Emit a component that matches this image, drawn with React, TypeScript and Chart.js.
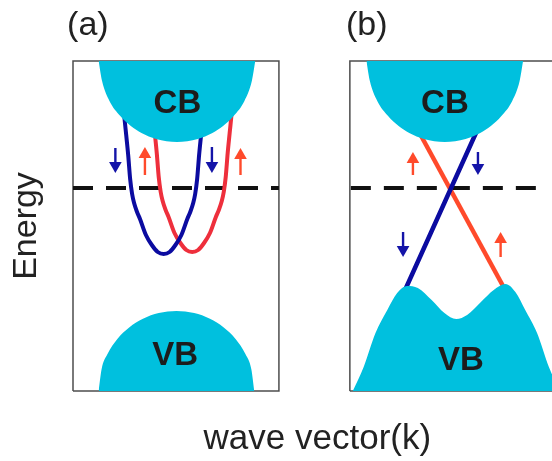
import React, { useEffect, useRef } from 'react';
import { Chart, registerables } from 'chart.js';

Chart.register(...registerables);

type P = { x: number; y: number | null };

// ---- data (k along x, energy along y; arbitrary units) ----
const frameA: P[] = [{ x: 0, y: 0 }, { x: 0, y: 330 }, { x: 209, y: 330 }, { x: 209, y: 0 }, { x: 0, y: 0 }];
const frameB: P[] = [{ x: 281, y: 0 }, { x: 281, y: 330 }, { x: 490, y: 330 }, { x: 490, y: 0 }, { x: 281, y: 0 }];

const fermiA: P[] = [{ x: 0, y: 203 }, { x: 209, y: 203 }];
const fermiB: P[] = [{ x: 282, y: 203 }, { x: 470, y: 203 }];

const cbA: P[] = [
  { x: 26, y: 330 }, { x: 29.5, y: 310 }, { x: 37, y: 290 }, { x: 48, y: 275 }, { x: 58.7, y: 265 },
  { x: 69.5, y: 258 }, { x: 84.3, y: 252 }, { x: 105.5, y: 249 }, { x: 126.7, y: 252 }, { x: 141.5, y: 258 },
  { x: 152.3, y: 265 }, { x: 163, y: 275 }, { x: 174, y: 290 }, { x: 181.5, y: 310 }, { x: 185, y: 330 },
];
const cbB: P[] = [
  { x: 297.8, y: 330 }, { x: 301.3, y: 310 }, { x: 308.8, y: 290 }, { x: 319.8, y: 275 }, { x: 330.5, y: 265 },
  { x: 341.3, y: 258 }, { x: 356.1, y: 252 }, { x: 377.3, y: 249 }, { x: 398.5, y: 252 }, { x: 413.3, y: 258 },
  { x: 424.1, y: 265 }, { x: 434.8, y: 275 }, { x: 445.8, y: 290 }, { x: 453.3, y: 310 }, { x: 456.8, y: 330 },
];
const vbA: P[] = [
  { x: 26, y: 0 }, { x: 29, y: 21.8 }, { x: 35, y: 37 }, { x: 45, y: 52 }, { x: 57, y: 63.5 },
  { x: 71, y: 72.2 }, { x: 87, y: 77.9 }, { x: 105, y: 80 }, { x: 123, y: 77.9 }, { x: 139, y: 72.2 },
  { x: 153, y: 63.5 }, { x: 165, y: 52 }, { x: 175, y: 37 }, { x: 181, y: 21.8 }, { x: 184, y: 0 },
];
const vbB: P[] = [
  { x: 284, y: 0 }, { x: 295, y: 24 }, { x: 307, y: 58 }, { x: 319, y: 81 }, { x: 329, y: 98 },
  { x: 339, y: 105 }, { x: 350, y: 103 }, { x: 364, y: 91 }, { x: 377, y: 78 }, { x: 389, y: 72 },
  { x: 400, y: 76 }, { x: 414, y: 89 }, { x: 427, y: 101 }, { x: 439, y: 107 }, { x: 449, y: 99 },
  { x: 459, y: 81 }, { x: 471, y: 58 }, { x: 483, y: 24 }, { x: 494, y: 0 },
];

// spin-split parabolic bands, panel (a)
const bandDownA: P[] = [
  { x: 51, y: 291 }, { x: 52, y: 276 }, { x: 54, y: 256 }, { x: 56, y: 236 }, { x: 58, y: 212 },
  { x: 60, y: 197 }, { x: 62, y: 188 }, { x: 65, y: 179 }, { x: 68, y: 172 }, { x: 74, y: 156 },
  { x: 80, y: 146 }, { x: 86, y: 139 }, { x: 92, y: 137 }, { x: 98, y: 139 }, { x: 104, y: 146 },
  { x: 110, y: 156 }, { x: 116, y: 172 }, { x: 119, y: 179 }, { x: 122, y: 188 }, { x: 124, y: 197 },
  { x: 126, y: 212 }, { x: 128, y: 236 }, { x: 130, y: 256 }, { x: 132, y: 276 }, { x: 133, y: 291 },
];
const bandUpA: P[] = [
  { x: 80, y: 293 }, { x: 81, y: 278 }, { x: 83, y: 258 }, { x: 85, y: 238 }, { x: 87, y: 214 },
  { x: 89, y: 199 }, { x: 91, y: 190 }, { x: 94, y: 181 }, { x: 97, y: 174 }, { x: 103, y: 158 },
  { x: 109, y: 148 }, { x: 115, y: 141 }, { x: 121, y: 139 }, { x: 127, y: 141 }, { x: 133, y: 148 },
  { x: 139, y: 158 }, { x: 145, y: 174 }, { x: 148, y: 181 }, { x: 151, y: 190 }, { x: 153, y: 199 },
  { x: 155, y: 214 }, { x: 157, y: 238 }, { x: 159, y: 258 }, { x: 161, y: 278 }, { x: 162, y: 293 },
];
// linear (Dirac-like) bands, panel (b)
const bandDownB: P[] = [{ x: 337, y: 101 }, { x: 419.5, y: 281 }];
const bandUpB: P[] = [{ x: 339, y: 281 }, { x: 437, y: 104 }];

// spin arrows
const spinDownX = [43, 141, 411, 335];
const spinDownTail = [243, 244, 239, 159];
const spinDownTip = [218, 218, 216, 134];
const spinUpX = [73, 170, 345, 434];
const spinUpTail = [216, 216, 216, 134];
const spinUpTip = [244, 243, 239, 159];

// labels
const bandLabels = ['CB', 'CB', 'VB', 'VB'];
const bandLabelX = [106, 377.5, 103.7, 393.7];
const bandLabelY = [278, 278, 26, 21];
const panelLabels = ['(a)', '(b)'];
const panelLabelX = [-6, 277];
const panelLabelY = [356, 356];

const FONT = '"Liberation Sans", Arial, Helvetica, sans-serif';
const CYAN = '#00c0de';
const NAVY = '#0b0ba0';
const RED_A = '#ee2f3c';
const RED_B = '#ff4a2b';
const ARROW_RED = '#ff4a2b';
const ARROW_BLUE = '#1414a8';
const INK = '#1c1c1c';
const HEAD = 7.3;

const labelPlugin = {
  id: 'bandLabels',
  afterDatasetsDraw(chart: any) {
    const { ctx } = chart;
    const xs = chart.scales.x;
    const ys = chart.scales.y;
    ctx.save();
    ctx.fillStyle = INK;
    ctx.textBaseline = 'alphabetic';
    ctx.textAlign = 'center';
    ctx.font = `bold 33px ${FONT}`;
    bandLabels.forEach((t, i) => {
      ctx.fillText(t, xs.getPixelForValue(bandLabelX[i]), ys.getPixelForValue(bandLabelY[i]));
    });
    ctx.textAlign = 'left';
    ctx.fillStyle = '#222';
    ctx.font = `34px ${FONT}`;
    panelLabels.forEach((t, i) => {
      ctx.fillText(t, xs.getPixelForValue(panelLabelX[i]), ys.getPixelForValue(panelLabelY[i]));
    });
    ctx.restore();
  },
};

export default function App() {
  const ref = useRef<HTMLCanvasElement>(null);

  useEffect(() => {
    if (!ref.current) return;

    const downShafts: P[] = [];
    spinDownX.forEach((x, i) => {
      downShafts.push({ x, y: spinDownTail[i] }, { x, y: spinDownTip[i] + HEAD }, { x, y: null });
    });
    const upShafts: P[] = [];
    spinUpX.forEach((x, i) => {
      upShafts.push({ x, y: spinUpTail[i] }, { x, y: spinUpTip[i] - HEAD }, { x, y: null });
    });
    const downHeads = spinDownX.map((x, i) => ({ x, y: spinDownTip[i] + HEAD }));
    const upHeads = spinUpX.map((x, i) => ({ x, y: spinUpTip[i] - HEAD }));

    const frame = (data: P[]) => ({
      data, borderColor: '#4d4d4d', borderWidth: 1.5, tension: 0, fill: false, pointRadius: 0, clip: false, order: 9,
    });
    const dash = (data: P[]) => ({
      data, borderColor: '#111', borderWidth: 4, borderDash: [20, 13], tension: 0, fill: false, pointRadius: 0, order: 8,
    });
    const band = (data: P[], color: string, w: number) => ({
      data, borderColor: color, borderWidth: w, cubicInterpolationMode: 'monotone', fill: false, pointRadius: 0, order: 7,
    });
    const blob = (data: P[], fill: string) => ({
      data, borderWidth: 0, borderColor: CYAN, backgroundColor: CYAN, fill, cubicInterpolationMode: 'monotone', pointRadius: 0, order: 5,
    });

    const chart = new Chart(ref.current, {
      type: 'line',
      data: {
        datasets: [
          frame(frameA),
          frame(frameB),
          dash(fermiA),
          dash(fermiB),
          band(bandDownA, NAVY, 4),
          band(bandUpA, RED_A, 4),
          band(bandDownB, NAVY, 4.5),
          band(bandUpB, RED_B, 4.5),
          blob(cbA, 'end'),
          blob(cbB, 'end'),
          blob(vbA, 'start'),
          blob(vbB, 'start'),
          { data: downShafts, borderColor: ARROW_BLUE, borderWidth: 2.4, spanGaps: false, tension: 0, pointRadius: 0, fill: false, order: 3 },
          { data: upShafts, borderColor: ARROW_RED, borderWidth: 2.4, spanGaps: false, tension: 0, pointRadius: 0, fill: false, order: 3 },
          { data: downHeads, showLine: false, pointStyle: 'triangle', pointRadius: HEAD, pointRotation: 180, pointBackgroundColor: ARROW_BLUE, pointBorderWidth: 0, order: 1 },
          { data: upHeads, showLine: false, pointStyle: 'triangle', pointRadius: HEAD, pointRotation: 0, pointBackgroundColor: ARROW_RED, pointBorderWidth: 0, order: 1 },
        ] as any,
      },
      options: {
        responsive: false,
        animation: false,
        events: [],
        layout: { padding: { left: 0, top: 61, right: 0, bottom: 0 } },
        elements: { point: { radius: 0, hoverRadius: 0 } },
        plugins: { legend: { display: false }, tooltip: { enabled: false } },
        scales: {
          x: {
            type: 'linear', min: 0, max: 496,
            grid: { display: false, drawTicks: false, tickLength: 0 },
            border: { display: false },
            ticks: { display: false },
            title: {
              display: true, text: 'wave vector(k)', color: '#222',
              font: { family: FONT, size: 35, lineHeight: 1 },
              padding: { top: 30.5, bottom: 4.5 },
            },
          },
          y: {
            type: 'linear', min: 0, max: 330,
            grid: { display: false, drawTicks: false, tickLength: 0 },
            border: { display: false },
            ticks: { display: false },
            title: {
              display: true, text: 'Energy', color: '#222',
              font: { family: FONT, size: 34, lineHeight: 1 },
              padding: { top: 10, bottom: 29 },
            },
          },
        },
      } as any,
      plugins: [labelPlugin],
    });
    return () => chart.destroy();
  }, []);

  return (
    <div style={{ position: 'fixed', left: 0, top: 0, width: 552, height: 461, overflow: 'hidden', background: '#fff' }}>
      <canvas ref={ref} width={569} height={461} style={{ display: 'block', width: 569, height: 461 }} />
    </div>
  );
}
